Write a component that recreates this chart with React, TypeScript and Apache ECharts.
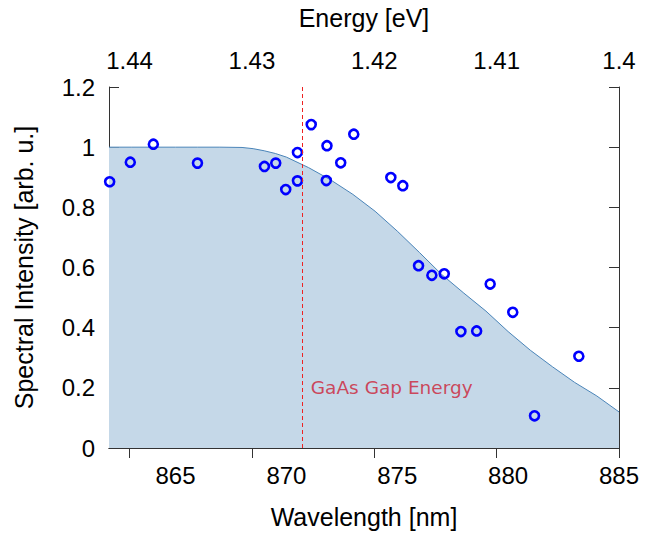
import React, { useEffect, useRef } from "react";
import * as echarts from "echarts";

const wavelengthRange = [862, 885];
const wavelengthTicks = [865, 870, 875, 880, 885];
const energyRange = [1.4, 1.44168];
const energyTicks = [1.4, 1.41, 1.42, 1.43, 1.44];
const intensityRange = [0, 1.2];

const measWavelength = [
  862.03, 862.96, 864.0, 865.99, 869.01, 869.52, 869.97, 870.5, 870.5, 871.12,
  871.83, 871.8, 872.45, 873.04, 874.71, 875.25, 875.96, 876.56, 877.12, 879.19,
  877.87, 878.58, 880.21, 883.19, 881.19,
];
const measIntensity = [
  0.885, 0.95, 1.01, 0.947, 0.936, 0.947, 0.859, 0.982, 0.888, 1.075,
  1.005, 0.889, 0.948, 1.043, 0.899, 0.872, 0.606, 0.574, 0.579, 0.545,
  0.387, 0.389, 0.451, 0.305, 0.107,
];

const fitWavelength = [
  862, 863, 864, 865, 866, 867, 868, 868.5, 869, 869.5, 870, 871, 872, 873, 874,
  875, 876, 877, 878, 879, 880, 881, 882, 883, 884, 885,
];
const fitIntensity = [
  1.0, 1.0, 1.0, 1.0, 1.0, 1.0, 0.999, 0.995, 0.988, 0.979, 0.967, 0.932, 0.891,
  0.843, 0.787, 0.721, 0.65, 0.577, 0.515, 0.455, 0.387, 0.325, 0.27, 0.218,
  0.173, 0.12,
];

const gapWavelength = 870.7;
const gapLabelPos = [871.1, 0.202];
const gapLabel = "GaAs Gap Energy";

const FONT = "'Liberation Sans', Arial, sans-serif";

export default function App() {
  const ref = useRef<HTMLDivElement>(null);
  useEffect(() => {
    if (!ref.current) return;
    const chart = echarts.init(ref.current, undefined, { renderer: "svg" });
    const axisText = { color: "#000", fontSize: 24, fontFamily: FONT };
    const titleText = { color: "#000", fontSize: 25, fontFamily: FONT };
    const lineStyle = { color: "#333", width: 1 };
    chart.setOption({
      animation: false,
      backgroundColor: "#fff",
      grid: { left: 109, right: 26, top: 85, bottom: 86, containLabel: false },
      xAxis: [
        {
          type: "value",
          position: "bottom",
          min: wavelengthRange[0],
          max: wavelengthRange[1],
          name: "Wavelength [nm]",
          nameLocation: "middle",
          nameGap: 56,
          nameTextStyle: titleText,
          axisLine: { show: true, lineStyle },
          axisTick: { show: true, inside: true, length: 10, lineStyle, customValues: wavelengthTicks },
          axisLabel: { ...axisText, margin: 15, customValues: wavelengthTicks },
          splitLine: { show: false },
        },
        {
          type: "value",
          position: "top",
          min: energyRange[0],
          max: energyRange[1],
          inverse: true,
          name: "Energy [eV]",
          nameLocation: "middle",
          nameGap: 57,
          nameTextStyle: titleText,
          axisLine: { show: true, lineStyle },
          axisTick: { show: true, inside: true, length: 10, lineStyle, customValues: energyTicks },
          axisLabel: {
            ...axisText,
            margin: 15,
            customValues: energyTicks,
            formatter: (v: number) => String(Number(v.toFixed(2))),
          },
          splitLine: { show: false },
        },
      ],
      yAxis: [
        {
          type: "value",
          position: "left",
          min: intensityRange[0],
          max: intensityRange[1],
          interval: 0.2,
          name: "Spectral Intensity [arb. u.]",
          nameLocation: "middle",
          nameGap: 73,
          nameTextStyle: titleText,
          axisLine: { show: true, lineStyle },
          axisTick: { show: true, inside: true, length: 10, lineStyle },
          axisLabel: {
            ...axisText,
            margin: 14,
            formatter: (v: number) => String(Number(v.toFixed(1))),
          },
          splitLine: { show: false },
        },
        {
          type: "value",
          position: "right",
          min: intensityRange[0],
          max: intensityRange[1],
          interval: 0.2,
          axisLine: { show: true, lineStyle },
          axisTick: { show: true, inside: true, length: 10, lineStyle },
          axisLabel: { show: false },
          splitLine: { show: false },
        },
      ],
      series: [
        {
          type: "line",
          xAxisIndex: 0,
          yAxisIndex: 0,
          data: fitWavelength.map((w, i) => [w, fitIntensity[i]]),
          showSymbol: false,
          symbol: "none",
          lineStyle: { color: "#4a84b8", width: 1 },
          areaStyle: { color: "#c5d8e8", opacity: 1 },
          z: 1,
          markLine: {
            silent: true,
            symbol: ["none", "none"],
            label: { show: false },
            lineStyle: { color: "#ee2222", type: [4, 3], width: 1 },
            data: [{ xAxis: gapWavelength }],
          },
        },
        {
          type: "scatter",
          xAxisIndex: 0,
          yAxisIndex: 0,
          data: measWavelength.map((w, i) => [w, measIntensity[i]]),
          symbol: "circle",
          symbolSize: 9,
          itemStyle: { color: "rgba(0,0,0,0)", borderColor: "#0000ff", borderWidth: 2.6, opacity: 1 },
          z: 3,
        },
        {
          type: "scatter",
          xAxisIndex: 0,
          yAxisIndex: 0,
          data: [gapLabelPos],
          symbolSize: 0,
          silent: true,
          label: {
            show: true,
            position: "right",
            distance: 0,
            formatter: gapLabel,
            color: "#cc2035",
            fontSize: 18.5,
            fontFamily: "'DejaVu Sans', Verdana, sans-serif",
          },
          z: 4,
        },
      ],
    });
    return () => chart.dispose();
  }, []);
  return (
    <div
      ref={ref}
      style={{ position: "fixed", left: 0, top: 0, width: 645, height: 534, background: "#fff" }}
    />
  );
}
